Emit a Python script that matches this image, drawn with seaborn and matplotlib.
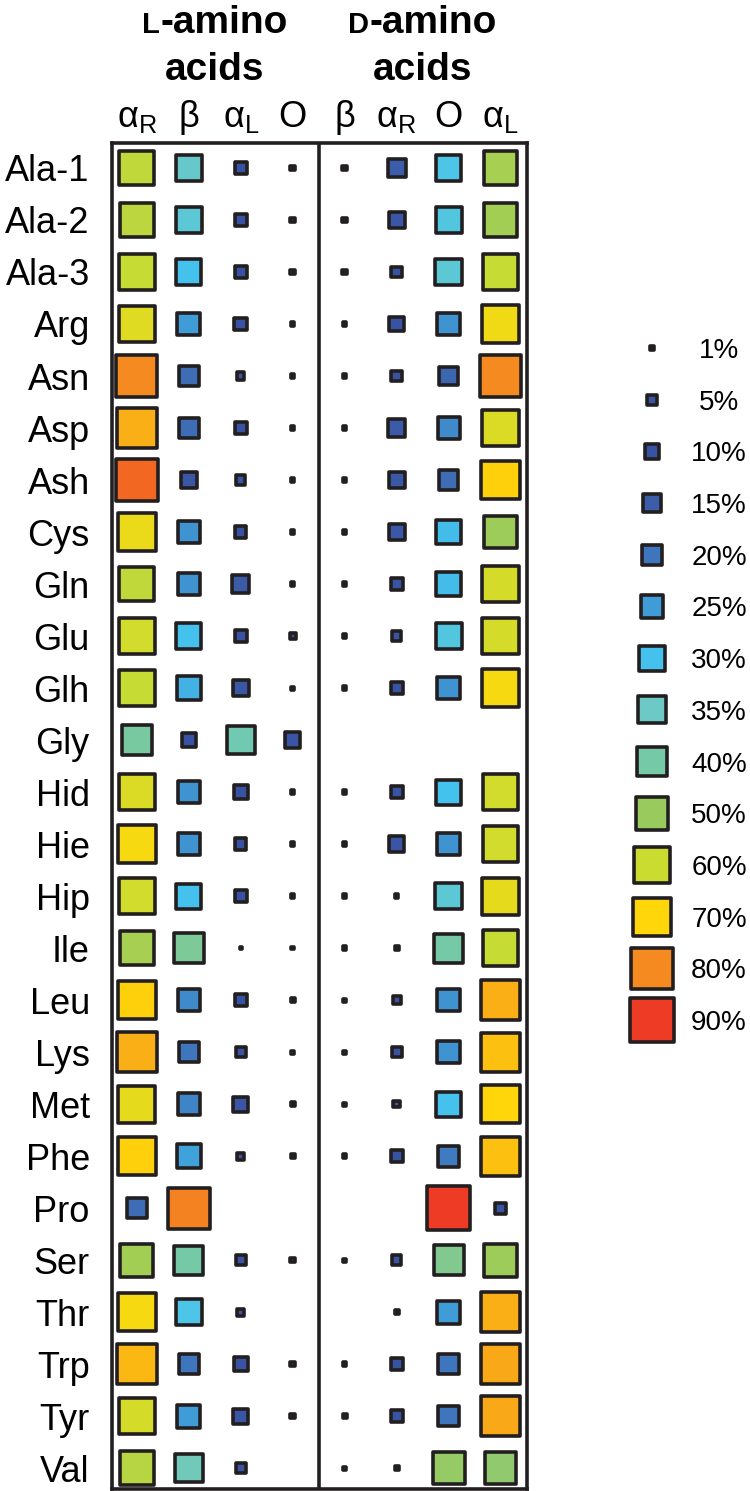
import numpy as np
import pandas as pd
import matplotlib
matplotlib.use("Agg")
import matplotlib.pyplot as plt
from matplotlib import transforms
from matplotlib.colors import LinearSegmentedColormap
import seaborn as sns

# --- data ---------------------------------------------------------------
residues = ["Ala-1", "Ala-2", "Ala-3", "Arg", "Asn", "Asp", "Ash", "Cys", "Gln",
            "Glu", "Glh", "Gly", "Hid", "Hie", "Hip", "Ile", "Leu", "Lys", "Met",
            "Phe", "Pro", "Ser", "Thr", "Trp", "Tyr", "Val"]
col_labels = [r"$\mathrm{α}_\mathrm{R}$", "β", r"$\mathrm{α}_\mathrm{L}$", "O",
              "β", r"$\mathrm{α}_\mathrm{R}$", "O", r"$\mathrm{α}_\mathrm{L}$"]

nan = np.nan
# L-amino acids (percent population)
l_alpha_r = [58, 57, 59, 64, 80, 75, 84, 66, 58, 61, 59, 41, 63, 68, 61, 53, 71, 75, 65, 71, 18, 52, 68, 74, 62, 56]
l_beta = [34, 33, 30, 25, 18, 18, 12, 24, 24, 30, 28, 10, 24, 24, 30, 42, 23, 20, 22, 26, 81, 40, 31, 20, 25, 37]
l_alpha_l = [7, 7, 7, 8, 2.5, 7, 4, 6, 14, 7, 12, 38, 9, 6, 7, 0.3, 6.5, 5, 11, 2.5, nan, 5, 2.5, 9, 11, 5]
l_other = [1, 1, 1, 0.5, 0.5, 0.5, 0.5, 0.5, 0.5, 1.5, 0.4, 11, 0.5, 0.5, 0.5, 0.3, 0.8, 0.5, 0.7, 0.6, nan, 1, nan, 1, 1, nan]
# D-amino acids
d_beta = [1, 1, 1, 0.5, 0.5, 0.5, 0.5, 0.5, 0.5, 0.5, 0.5, nan, 0.5, 0.5, 0.5, 0.5, 0.4, 0.5, 0.4, 0.6, nan, 0.5, nan, 0.6, 0.8, 0.5]
d_alpha_r = [15, 12, 5.5, 10, 5.5, 14, 12.5, 12.5, 7, 4.5, 7, nan, 7, 11, 0.5, 0.8, 3, 5, 2, 7, nan, 4.5, 0.8, 7, 7, 0.8]
d_other = [31, 32, 33, 24, 17, 23, 18, 29, 29, 32, 24, nan, 30, 24, 33, 40, 24, 24, 30, 21, 90, 43, 25, 20, 20, 49]
d_alpha_l = [53, 52, 59, 67, 80, 63, 71, 51, 62, 62, 68, nan, 61, 61, 65, 59, 75, 73, 70, 73, 6, 51, 75, 76, 76, 48]

legend_pcts = [1, 5, 10, 15, 20, 25, 30, 35, 40, 50, 60, 70, 80, 90]

# colour scale
pct_stops = [0, 10, 15, 20, 25, 30, 35, 40, 50, 60, 70, 80, 90, 100]
stop_colors = ["#3a53a4", "#3953a4", "#3c5daa", "#3f75bc", "#3f9bd7", "#44c4ee",
               "#6dc9c4", "#76c9a6", "#98ca5e", "#cbdc31", "#ffd80a", "#f58b20",
               "#ee3b26", "#e52521"]

columns = [l_alpha_r, l_beta, l_alpha_l, l_other, d_beta, d_alpha_r, d_other, d_alpha_l]

# --- style --------------------------------------------------------------
sns.set_style("white")
plt.rcParams["font.family"] = ["Liberation Sans", "DejaVu Sans"]
plt.rcParams["text.color"] = "black"
plt.rcParams["mathtext.fontset"] = "custom"
plt.rcParams["mathtext.rm"] = "Liberation Sans"
plt.rcParams["mathtext.it"] = "Liberation Sans"

ink = "#231f20"
lw = 2.6
cmap = LinearSegmentedColormap.from_list(
    "pop", [(p / 100, c) for p, c in zip(pct_stops, stop_colors)])
size_kw = dict(hue_norm=(0, 100), palette=cmap, size_norm=(0, 100), sizes=(0, 1090),
               marker="s", edgecolor=ink, linewidth=lw, legend=False)

rows = []
for ci, vals in enumerate(columns):
    for ri, v in enumerate(vals):
        rows.append({"col": ci, "row": ri, "pct": v})
df = pd.DataFrame(rows).dropna()

W, H = 750, 1491
fig = plt.figure(figsize=(W / 100, H / 100), dpi=100)
ax = fig.add_axes([112 / W, 1 - 1489 / H, (527 - 112) / W, (1489 - 143) / H])

sns.scatterplot(data=df, x="col", y="row", hue="pct", size="pct", ax=ax, **size_kw)
ax.set_xlim(-0.48, 7.51)
ax.set_ylim(25.4, -0.48)
ax.set(xlabel="", ylabel="")
ax.set_xticks([])
ax.set_yticks(range(len(residues)), residues)
ax.tick_params(axis="y", length=0, pad=16, labelsize=26, labelcolor="black")
for sp in ax.spines.values():
    sp.set_visible(True)
    sp.set_linewidth(lw)
    sp.set_color(ink)
ax.axvline(3.5, color=ink, lw=lw)

# column headers
blend = transforms.blended_transform_factory(ax.transData, fig.transFigure)
for i, lab in enumerate(col_labels):
    ax.text(i, 1 - 127 / H, lab, transform=blend, ha="center", va="baseline",
            fontsize=26, color="black")

# group titles with small-capital L / D
renderer = fig.canvas.get_renderer()
for cx, letter in [(1.5, "L"), (5.5, "D")]:
    px = ax.transData.transform((cx, 0))[0]
    t1 = fig.text(0, 1 - 33 / H, letter, fontsize=21, fontweight="bold", va="baseline")
    t2 = fig.text(0, 1 - 33 / H, "-amino", fontsize=28, fontweight="bold", va="baseline")
    w1 = t1.get_window_extent(renderer).width
    w2 = t2.get_window_extent(renderer).width
    x0 = px - (w1 + w2) / 2
    t1.set_x(x0 / W)
    t2.set_x((x0 + w1) / W)
    fig.text(px / W, 1 - 80 / H, "acids", fontsize=28, fontweight="bold",
             ha="center", va="baseline")

# size/colour legend
top, step = 348, 51.7
ax_leg = fig.add_axes([600 / W, 1 - (top + 13.5 * step) / H, 150 / W, 14 * step / H])
leg = pd.DataFrame({"x": 0.0, "y": range(len(legend_pcts)), "pct": legend_pcts})
sns.scatterplot(data=leg, x="x", y="y", hue="pct", size="pct", ax=ax_leg, **size_kw)
for i, p in enumerate(legend_pcts):
    ax_leg.text(0.447, i, f"{p}%", ha="center", va="center_baseline", fontsize=20)
ax_leg.set_xlim(-52 / 150, 98 / 150)
ax_leg.set_ylim(13.5, -0.5)
ax_leg.axis("off")

fig.savefig("out.png", dpi=100)
